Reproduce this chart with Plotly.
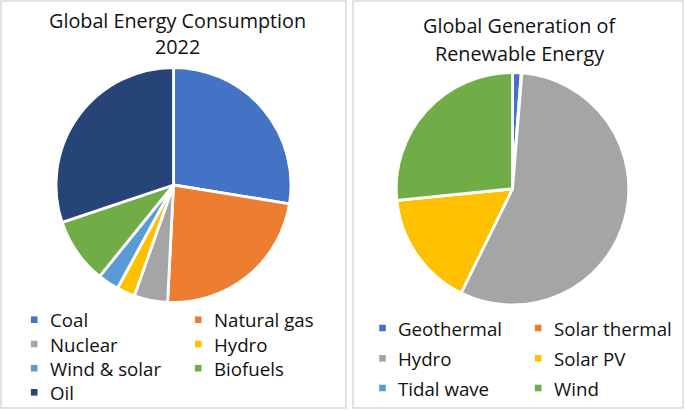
import plotly.graph_objects as go

# ---- data ----
energy_sources = ["Coal", "Natural gas", "Nuclear", "Hydro", "Wind & solar", "Biofuels", "Oil"]
energy_share = [27.5, 23.2, 4.6, 2.5, 2.9, 9.0, 30.1]
energy_colors = ["#4472C4", "#ED7D31", "#A5A5A5", "#FFC000", "#5B9BD5", "#70AD47", "#264478"]

renew_sources = ["Geothermal", "Solar thermal", "Hydro", "Solar PV", "Tidal wave", "Wind"]
renew_share = [1.2, 0.1, 56.0, 16.1, 0.01, 26.6]
renew_colors = ["#4472C4", "#ED7D31", "#A5A5A5", "#FFC000", "#5B9BD5", "#70AD47"]

title_left = ["Global Energy Consumption", "2022"]
title_right = ["Global Generation of", "Renewable Energy"]

W, H = 685, 410
FONT = "Open Sans"
TXT = "#111111"


def px(x):
    return x / W


def py(y):
    return 1 - y / H


fig = go.Figure()

fig.add_trace(go.Pie(
    labels=energy_sources, values=energy_share, sort=False, direction="clockwise",
    rotation=0, textinfo="none", showlegend=False,
    marker=dict(colors=energy_colors, line=dict(color="white", width=2.8)),
    domain=dict(x=[px(56), px(291)], y=[py(302.5), py(67.5)]),
))
fig.add_trace(go.Pie(
    labels=renew_sources, values=renew_share, sort=False, direction="clockwise",
    rotation=0, textinfo="none", showlegend=False,
    marker=dict(colors=renew_colors, line=dict(color="white", width=2.8)),
    domain=dict(x=[px(396), px(629)], y=[py(305), py(72.5)]),
))

shapes = []
annotations = []

# panel frames
for x0, x1 in [(1, 346), (353, 683)]:
    shapes.append(dict(type="rect", xref="paper", yref="paper",
                       x0=px(x0), x1=px(x1), y0=py(408), y1=py(1),
                       line=dict(color="#D9D9D9", width=1.5), fillcolor="rgba(0,0,0,0)"))

# titles
for lines, cx, ys in [(title_left, 177.5, [20, 46.5]), (title_right, 519, [25.3, 53])]:
    for line, yy in zip(lines, ys):
        annotations.append(dict(text=line, x=px(cx), y=py(yy), xref="paper", yref="paper",
                                xanchor="center", yanchor="middle", showarrow=False,
                                font=dict(family=FONT, size=19.8, color=TXT)))


# legends (two columns, row-major)
def add_legend(labels, colors, text_x, row_y):
    for i, (lab, col) in enumerate(zip(labels, colors)):
        tx = text_x[i % 2]
        yy = row_y[i // 2]
        mx = tx - 13.5
        s = 3.3
        shapes.append(dict(type="rect", xref="paper", yref="paper",
                           x0=px(mx - s), x1=px(mx + s), y0=py(yy + s), y1=py(yy - s),
                           line=dict(width=0), fillcolor=col))
        annotations.append(dict(text=lab, x=px(tx), y=py(yy), xref="paper", yref="paper",
                                xanchor="left", yanchor="middle", showarrow=False,
                                font=dict(family=FONT, size=18.7, color=TXT)))


add_legend(energy_sources, energy_colors, [47.7, 211.7], [319.7, 344.0, 368.2, 392.3])
add_legend(renew_sources, renew_colors, [396, 551.7], [328, 358.3, 388])

fig.update_layout(
    width=W, height=H,
    margin=dict(l=0, r=0, t=0, b=0, autoexpand=False),
    paper_bgcolor="white", plot_bgcolor="white",
    shapes=shapes, annotations=annotations,
    showlegend=False,
)

fig.write_html(
    "out.html",
    config={"displayModeBar": False},
    post_script="document.body.style.margin='0';document.body.style.overflow='hidden';",
)
